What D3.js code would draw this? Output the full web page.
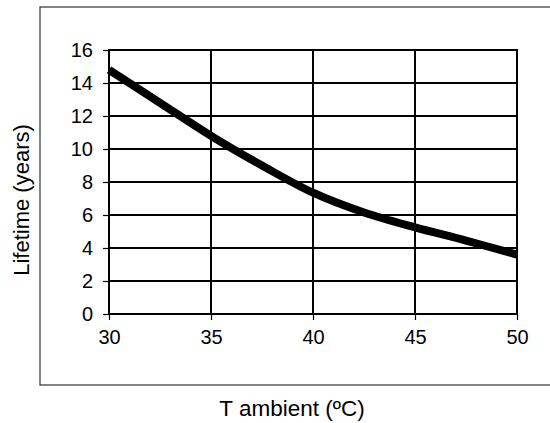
<!DOCTYPE html>
<html>
<head>
<meta charset="utf-8">
<script src="https://cdn.jsdelivr.net/npm/d3@7"></script>
<style>
  html, body { margin: 0; padding: 0; background: #fff; }
  svg { display: block; font-family: "Liberation Sans", Arial, sans-serif; }
</style>
</head>
<body>
<svg id="chart" width="550" height="423"></svg>
<script>
const temperature = [30, 32.5, 35, 37.5, 40, 42.5, 45, 47.5, 50];
const lifetime    = [14.8, 12.8, 10.8, 9.0, 7.35, 6.15, 5.25, 4.45, 3.6];
const xTicks = [30, 35, 40, 45, 50];
const yTicks = [0, 2, 4, 6, 8, 10, 12, 14, 16];
const xTitle = "T ambient (ºC)";
const yTitle = "Lifetime (years)";

const svg = d3.select("#chart");
const pLeft = 109, pRight = 517, pTop = 50, pBottom = 314;

const x = d3.scaleLinear().domain([30, 50]).range([pLeft, pRight]);
const y = d3.scaleLinear().domain([0, 16]).range([pBottom, pTop]);

// outer frame (extends past right edge)
svg.append("rect")
  .attr("x", 40).attr("y", 7)
  .attr("width", 530).attr("height", 378)
  .attr("fill", "none").attr("stroke", "#333").attr("stroke-width", 1.2);

// grid
svg.append("g").selectAll("line").data(yTicks).join("line")
  .attr("x1", pLeft).attr("x2", pRight)
  .attr("y1", d => y(d)).attr("y2", d => y(d))
  .attr("stroke", "#000").attr("stroke-width", 1.2)
  .attr("shape-rendering", "crispEdges");
svg.append("g").selectAll("line").data(xTicks).join("line")
  .attr("y1", pTop).attr("y2", pBottom)
  .attr("x1", d => x(d)).attr("x2", d => x(d))
  .attr("stroke", "#000").attr("stroke-width", 1.2)
  .attr("shape-rendering", "crispEdges");

// plot border
svg.append("rect")
  .attr("x", pLeft).attr("y", pTop)
  .attr("width", pRight - pLeft).attr("height", pBottom - pTop)
  .attr("fill", "none").attr("stroke", "#000").attr("stroke-width", 2);

// axes
const xAxis = svg.append("g")
  .attr("transform", `translate(0,${pBottom})`)
  .call(d3.axisBottom(x).tickValues(xTicks).tickSize(6).tickPadding(10).tickFormat(d3.format("d")));
const yAxis = svg.append("g")
  .attr("transform", `translate(${pLeft},0)`)
  .call(d3.axisLeft(y).tickValues(yTicks).tickSize(6).tickPadding(10).tickFormat(d3.format("d")));
[xAxis, yAxis].forEach(a => {
  a.select(".domain").remove();
  a.selectAll(".tick line").attr("stroke", "#000").attr("stroke-width", 1.2);
  a.selectAll(".tick text").attr("fill", "#000").style("font-size", "20px")
    .style("font-family", '"Liberation Sans", Arial, sans-serif');
});

// curve
const line = d3.line()
  .x((d, i) => x(temperature[i]))
  .y(d => y(d))
  .curve(d3.curveCatmullRom);
svg.append("path")
  .datum(lifetime)
  .attr("d", line)
  .attr("fill", "none")
  .attr("stroke", "#000")
  .attr("stroke-width", 8)
  .attr("stroke-linecap", "butt");

// titles
svg.append("text")
  .attr("x", 292).attr("y", 416)
  .attr("text-anchor", "middle")
  .style("font-size", "22.5px")
  .text(xTitle);
svg.append("text")
  .attr("transform", "translate(29,200) rotate(-90)")
  .attr("text-anchor", "middle")
  .style("font-size", "22px")
  .text(yTitle);
</script>
</body>
</html>
